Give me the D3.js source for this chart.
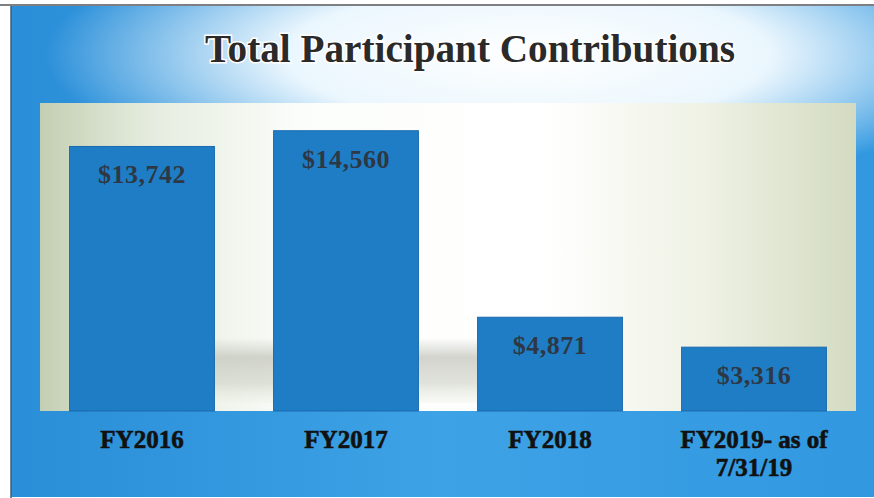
<!DOCTYPE html>
<html>
<head>
<meta charset="utf-8">
<script src="https://cdn.jsdelivr.net/npm/d3@7"></script>
<style>
  html, body { margin: 0; padding: 0; background: #fff; }
  #chart svg { display: block; }
</style>
</head>
<body>
<div id="chart"></div>
<script>
const categories = ['FY2016', 'FY2017', 'FY2018', 'FY2019- as of\n7/31/19'];
const contributions = [13742, 14560, 4871, 3316];
const yMax = 16000;

(function() {
  displayChart();
})()

function displayChart() {
  const width = 874;
  const height = 498;
  const plot = { left: 40, right: 856, top: 103, bottom: 411 };
  const titleName = 'Total Participant Contributions';

  const svg = d3.select('#chart').append('svg')
      .attr('width', width)
      .attr('height', height);

  addGradients(svg);
  displayBackground(svg, width, height, plot);

  const xScale = d3.scaleBand()
      .domain(categories)
      .range([plot.left, plot.right])
      .paddingInner(0.29)
      .paddingOuter(0.145);
  const yScale = d3.scaleLinear()
      .domain([0, yMax])
      .range([plot.bottom, plot.top]);

  displayBars(svg, xScale, yScale);
  displayCategoryLabels(svg, xScale, plot);
  displayTitle(svg, titleName);
}

function addGradients(svg) {
  const defs = svg.append('defs');

  const outer = defs.append('linearGradient')
      .attr('id', 'outer-bg')
      .attr('x1', 0).attr('y1', 0).attr('x2', 1).attr('y2', 0);
  outer.append('stop').attr('offset', '0%').attr('stop-color', '#2a8ed8');
  outer.append('stop').attr('offset', '50%').attr('stop-color', '#3ea2e6');
  outer.append('stop').attr('offset', '100%').attr('stop-color', '#3198e0');

  const glow = defs.append('radialGradient')
      .attr('id', 'glow')
      .attr('cx', 0.6).attr('cy', 0.1).attr('r', 0.56)
      .attr('gradientTransform', 'translate(0.6,0.1) scale(1,0.5) translate(-0.6,-0.1)');
  glow.append('stop').attr('offset', '0%').attr('stop-color', '#ffffff').attr('stop-opacity', 1);
  glow.append('stop').attr('offset', '50%').attr('stop-color', '#f4fbff').attr('stop-opacity', 0.95);
  glow.append('stop').attr('offset', '100%').attr('stop-color', '#ffffff').attr('stop-opacity', 0);

  const inner = defs.append('linearGradient')
      .attr('id', 'plot-bg')
      .attr('x1', 0).attr('y1', 0).attr('x2', 1).attr('y2', 0);
  inner.append('stop').attr('offset', '0%').attr('stop-color', '#c3cfb2');
  inner.append('stop').attr('offset', '14%').attr('stop-color', '#e6ede0');
  inner.append('stop').attr('offset', '32%').attr('stop-color', '#fbfdfa');
  inner.append('stop').attr('offset', '62%').attr('stop-color', '#ffffff');
  inner.append('stop').attr('offset', '82%').attr('stop-color', '#eef1e3');
  inner.append('stop').attr('offset', '100%').attr('stop-color', '#d3dbc1');

  const floor = defs.append('linearGradient')
      .attr('id', 'floor')
      .attr('x1', 0).attr('y1', 0).attr('x2', 0).attr('y2', 1);
  floor.append('stop').attr('offset', '0%').attr('stop-color', '#c4c6bd').attr('stop-opacity', 0);
  floor.append('stop').attr('offset', '30%').attr('stop-color', '#c4c6bd').attr('stop-opacity', 0.75);
  floor.append('stop').attr('offset', '70%').attr('stop-color', '#cdd0c5').attr('stop-opacity', 0.6);
  floor.append('stop').attr('offset', '100%').attr('stop-color', '#eef0e6').attr('stop-opacity', 0.3);
}

function displayBackground(svg, width, height, plot) {
  // Outer frame
  svg.append('rect')
      .attr('x', 11).attr('y', 6)
      .attr('width', width - 11).attr('height', height - 7)
      .attr('fill', 'url(#outer-bg)');
  svg.append('rect')
      .attr('x', 11).attr('y', 6)
      .attr('width', width - 11).attr('height', height - 7)
      .attr('fill', 'url(#glow)');
  svg.append('line')
      .attr('x1', 0).attr('x2', width).attr('y1', 5).attr('y2', 5)
      .attr('stroke', '#7d7f82').attr('stroke-width', 2);
  svg.append('line')
      .attr('x1', 11).attr('x2', 11).attr('y1', 6).attr('y2', height)
      .attr('stroke', '#3b5f7c').attr('stroke-width', 1.5);

  // Plot area
  svg.append('rect')
      .attr('x', plot.left).attr('y', plot.top)
      .attr('width', plot.right - plot.left)
      .attr('height', plot.bottom - plot.top)
      .attr('fill', 'url(#plot-bg)');

  // Soft grey floor reflection behind the bars
  svg.append('rect')
      .attr('x', 200).attr('y', 338)
      .attr('width', 290).attr('height', plot.bottom - 338 - 8)
      .attr('fill', 'url(#floor)');
}

function displayBars(svg, xScale, yScale) {
  const bars = svg.append('g').attr('class', 'bars');

  bars.selectAll('rect')
      .data(contributions)
      .join('rect')
      .attr('x', (d, i) => xScale(categories[i]))
      .attr('y', d => yScale(d))
      .attr('width', xScale.bandwidth())
      .attr('height', d => yScale(0) - yScale(d))
      .attr('fill', '#1f7dc6')
      .attr('stroke', '#1a6aae')
      .attr('stroke-width', 1);

  bars.selectAll('text')
      .data(contributions)
      .join('text')
      .text(d => '$' + d3.format(',')(d))
      .attr('x', (d, i) => xScale(categories[i]) + xScale.bandwidth() / 2)
      .attr('y', d => yScale(d) + 37)
      .style('text-anchor', 'middle')
      .style('font-family', '"Liberation Serif", "DejaVu Serif", serif')
      .style('font-weight', 'bold')
      .style('font-size', '26px')
      .style('letter-spacing', '0.5px')
      .style('fill', '#2d3844');
}

function displayCategoryLabels(svg, xScale, plot) {
  const labels = svg.append('g').attr('class', 'x-labels');

  categories.forEach(cat => {
    const lines = cat.split('\n');
    const text = labels.append('text')
        .attr('x', xScale(cat) + xScale.bandwidth() / 2)
        .attr('y', plot.bottom + 37)
        .style('text-anchor', 'middle')
        .style('font-family', '"Liberation Serif", "DejaVu Serif", serif')
        .style('font-weight', 'bold')
        .style('font-size', '25px')
        .style('fill', '#111')
        .style('stroke', '#111')
        .style('stroke-width', 0.6);
    lines.forEach((line, i) => {
      text.append('tspan')
          .attr('x', xScale(cat) + xScale.bandwidth() / 2)
          .attr('dy', i === 0 ? 0 : 28)
          .text(line);
    });
  });
}

function displayTitle(svg, titleName) {
  svg.append('text')
      .text(titleName)
      .attr('id', 'title')
      .attr('x', 470)
      .attr('y', 62)
      .attr('textLength', 530)
      .attr('lengthAdjust', 'spacingAndGlyphs')
      .style('text-anchor', 'middle')
      .style('font-family', '"Liberation Serif", "DejaVu Serif", serif')
      .style('font-weight', 'bold')
      .style('font-size', '39px')
      .style('fill', '#2a2a2a')
      .style('stroke', '#ffffff')
      .style('stroke-width', 3)
      .style('paint-order', 'stroke');
}
</script>
</body>
</html>
